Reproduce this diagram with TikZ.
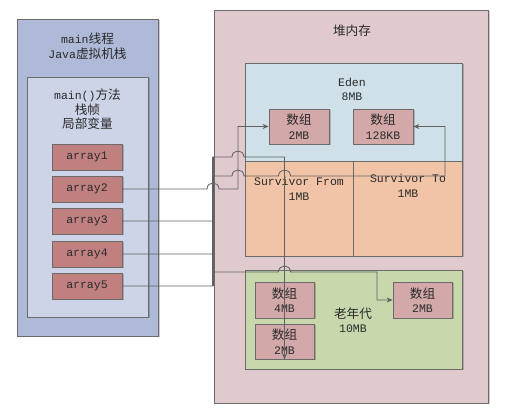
\documentclass[tikz,border=0pt]{standalone}
\usepackage{fontspec}
\setmainfont{Liberation Mono}
\newfontfamily\cjk[Scale=1.1]{Noto Sans CJK SC}
\usetikzlibrary{arrows.meta,shadows}
\definecolor{stackc}{HTML}{AEBAD8}
\definecolor{framec}{HTML}{CDD4E8}
\definecolor{arrc}{HTML}{C08080}
\definecolor{heapc}{HTML}{E0CACE}
\definecolor{edenc}{HTML}{CFE0E8}
\definecolor{survc}{HTML}{F1C4A7}
\definecolor{oldc}{HTML}{C8D8AC}
\definecolor{objc}{HTML}{D3A8A8}
\definecolor{edgec}{HTML}{6B6B6B}
\definecolor{linec}{HTML}{606060}
\definecolor{txtc}{HTML}{2A2A2A}
\newcommand\hop[2]{-- ({#1-6},#2) .. controls ({#1-6},{#2-8}) and ({#1+6},{#2-8}) .. ({#1+6},#2)}
\begin{document}
\begin{tikzpicture}[x=1pt,y=-1pt,
  every node/.style={font=\fontsize{11.5}{14.5}\selectfont, text=txtc, inner sep=0pt, align=center},
  boxa/.style={draw=edgec, line width=0.8pt, rectangle, drop shadow={shadow xshift=1.5pt, shadow yshift=-1.5pt, opacity=0.2, fill=black}},
  arrbox/.style={boxa, fill=arrc, minimum width=70pt, minimum height=26pt},
  objbox/.style={boxa, fill=objc, minimum width=60pt, minimum height=35pt},
  conn/.style={draw=linec, line width=0.8pt},
  tipc/.style={-{Stealth[length=6pt,width=5pt]}}
]
\useasboundingbox (0,0) rectangle (507,417);
% stack
\node[boxa, fill=stackc, minimum width=141pt, minimum height=317pt] (stack) at (87.5,177.5) {};
\node (stacklbl) at (87.5,46) {main{\cjk 线程}\\Java{\cjk 虚拟机栈}};
\node[boxa, fill=framec, minimum width=121pt, minimum height=240pt] (frame) at (87.5,197) {};
\node (framelbl) at (87.5,109.5) {main(){\cjk 方法}\\{\cjk 栈帧}\\{\cjk 局部变量}};
\node[arrbox] (a1) at (87,157) {array1};
\node[arrbox] (a2) at (87,189) {array2};
\node[arrbox] (a3) at (87,221) {array3};
\node[arrbox] (a4) at (87,254) {array4};
\node[arrbox] (a5) at (87,286) {array5};
% heap
\node[boxa, fill=heapc, minimum width=274pt, minimum height=393pt] (heap) at (351,206.5) {};
\node (heaplbl) at (352,31) {\cjk 堆内存};
\node[boxa, fill=edenc, minimum width=217pt, minimum height=98pt] (eden) at (353.5,112) {};
\node (edenlbl) at (352,89.5) {Eden\\8MB};
\node[objbox] (e2) at (299,126.5) {{\cjk 数组}\\2MB};
\node[objbox] (e128) at (383,126.5) {{\cjk 数组}\\128KB};
\node[boxa, fill=survc, minimum width=108pt, minimum height=95pt] (sfrom) at (299,208.5) {};
\node[boxa, fill=survc, minimum width=109pt, minimum height=95pt] (sto) at (407.5,208.5) {};
\node (sfromlbl) at (299,189) {Survivor From\\1MB};
\node (stolbl) at (408,186) {Survivor To\\1MB};
\node[boxa, fill=oldc, minimum width=217pt, minimum height=99pt] (old) at (353.5,319.5) {};
\node (oldlbl) at (353,320) {{\cjk 老年代}\\10MB};
\node[objbox, minimum width=59pt, minimum height=36pt] (o4) at (284.5,300) {{\cjk 数组}\\4MB};
\node[objbox, minimum width=59pt] (o2b) at (284.5,341.5) {{\cjk 数组}\\2MB};
\node[objbox, minimum width=59pt, minimum height=36pt] (o2r) at (422.5,300) {{\cjk 数组}\\2MB};
% connectors
\draw[conn, line width=1.3pt] (213,157) -- (213,286);
\draw[conn, tipc] (a2.east) \hop{213}{189} -- (238,189) |- (e2.west);
\draw[conn, tipc] (a3.east) -- (213,221) -- (213,157) \hop{238}{157} -- (284.5,157) -- (o2b.south);
\draw[conn, tipc] (a4.east) -- (213,254) -- (213,176) \hop{238}{176} \hop{284.5}{176} -- (445,176) |- (e128.east);
\draw[conn, tipc] (a5.east) -- (213,286) -- (213,272) \hop{284.5}{272} -- (377,272) |- (o2r.west);
\end{tikzpicture}
\end{document}
